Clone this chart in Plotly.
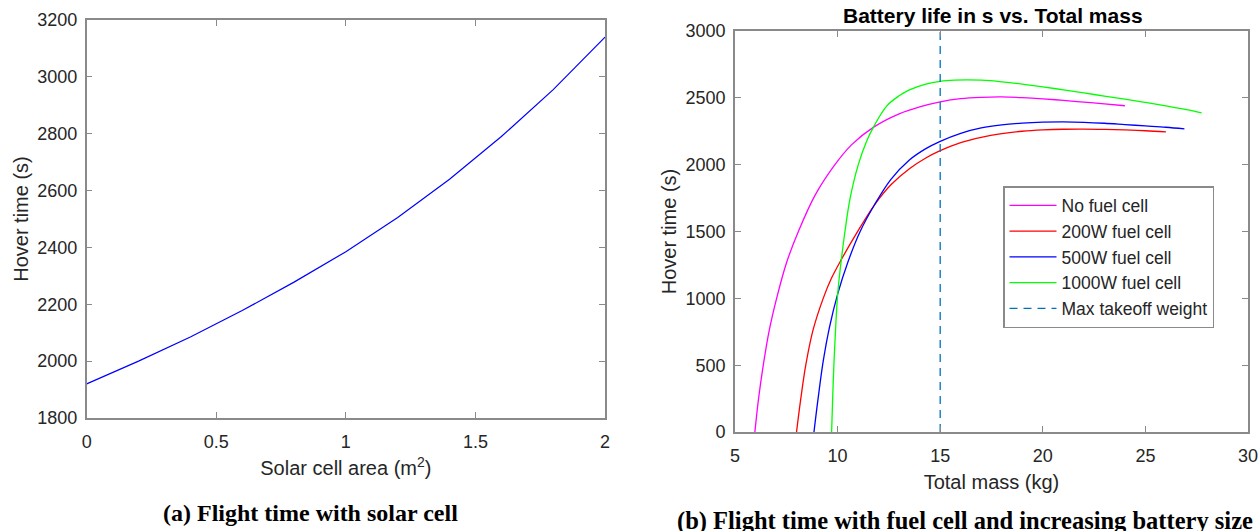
import plotly.graph_objects as go

# ---- Data: left panel (solar cell) ----
solar_area = [0.0, 0.2, 0.4, 0.6, 0.8, 1.0, 1.2, 1.4, 1.6, 1.8, 2.0]
solar_hover = [1920, 2000, 2085, 2178, 2278, 2385, 2505, 2640, 2790, 2955, 3140]

# ---- Data: right panel (fuel cell, battery size) ----
nofc_mass = [5.97, 6.15, 6.38, 6.67, 7.03, 7.52, 8.09, 8.9, 9.87, 10.69, 11.74, 13.0, 14.0, 15.0,
             16.0, 17.0, 18.0, 19.0, 20.0, 21.0, 22.0, 23.0, 24.0]
nofc_hover = [0, 250, 500, 760, 1000, 1270, 1500, 1770, 2000, 2150, 2279, 2380, 2432, 2470,
              2494, 2504, 2507, 2502, 2493, 2481, 2468, 2455, 2441]

fc200_mass = [8.0, 8.2, 8.45, 8.8, 9.3, 9.7, 10.2, 10.9, 11.8, 12.6, 13.5, 14.3, 15.0, 16.0, 17.0,
              18.0, 19.0, 20.0, 21.0, 22.0, 23.0, 24.0, 25.0, 26.0]
fc200_hover = [0, 240, 500, 760, 1000, 1150, 1295, 1480, 1700, 1850, 1970, 2050, 2105, 2165, 2205,
               2232, 2250, 2260, 2265, 2266, 2264, 2260, 2254, 2246]

fc500_mass = [8.85, 9.05, 9.3, 9.6, 10.0, 10.5, 11.1, 11.8, 12.6, 13.5, 14.3, 15.0, 16.0, 17.0, 18.0,
              19.0, 20.0, 21.0, 22.0, 23.0, 24.0, 25.0, 26.0, 26.9]
fc500_hover = [0, 250, 530, 780, 1030, 1270, 1500, 1700, 1890, 2035, 2120, 2175, 2235, 2275, 2298,
               2311, 2318, 2320, 2317, 2310, 2300, 2290, 2280, 2268]

fc1000_mass = [9.71, 9.76, 9.82, 9.9, 9.99, 10.1, 10.2, 10.36, 10.6, 11.01, 11.4, 11.74, 12.4, 13.0,
               13.5, 14.3, 15.0, 15.7, 16.3, 17.0, 18.0, 19.0, 20.0, 21.0, 22.0, 23.0, 24.0, 25.0,
               26.0, 27.0, 27.74]
fc1000_hover = [0, 250, 500, 760, 1000, 1180, 1310, 1500, 1740, 2000, 2170, 2279, 2440, 2515,
                2560, 2603, 2624, 2633, 2635, 2632, 2620, 2603, 2582, 2560, 2537, 2513, 2490, 2466,
                2440, 2412, 2388]

mtow_mass = [15, 15]
mtow_hover = [0, 3000]

series = [
    ("No fuel cell", nofc_mass, nofc_hover, "#FF00FF"),
    ("200W fuel cell", fc200_mass, fc200_hover, "#FF0000"),
    ("500W fuel cell", fc500_mass, fc500_hover, "#0000FF"),
    ("1000W fuel cell", fc1000_mass, fc1000_hover, "#00FF00"),
]

FONT = "Liberation Sans, Arial, sans-serif"
TICKC = "#262626"
AXC = "#8a8a8a"

fig = go.Figure()

fig.add_trace(go.Scatter(x=solar_area, y=solar_hover, mode="lines",
                         line=dict(color="#0000FF", width=1.2),
                         showlegend=False, xaxis="x", yaxis="y"))

for name, xs, ys, col in series:
    fig.add_trace(go.Scatter(x=xs, y=ys, mode="lines", name=name,
                             line=dict(color=col, width=1.3, shape="spline", smoothing=1.0),
                             xaxis="x2", yaxis="y2"))

fig.add_trace(go.Scatter(x=mtow_mass, y=mtow_hover, mode="lines", name="Max takeoff weight",
                         line=dict(color="#0072BD", width=1.3, dash="8px,6px"),
                         xaxis="x2", yaxis="y2"))

axis_common = dict(showgrid=False, zeroline=False, showline=True, linecolor=AXC, linewidth=1.6,
                   mirror="ticks", ticks="inside", ticklen=6, tickwidth=1.2, tickcolor=AXC,
                   automargin=False,
                   tickfont=dict(family=FONT, size=18, color=TICKC))

title_font = dict(family=FONT, size=20, color=TICKC)

fig.update_layout(
    width=1260, height=531,
    margin=dict(l=0, r=0, t=0, b=0),
    paper_bgcolor="white", plot_bgcolor="white",
    font=dict(family=FONT, color=TICKC),
    xaxis=dict(domain=[0.0688, 0.4802], range=[0, 2], tickvals=[0, 0.5, 1, 1.5, 2],
               ticktext=["0", "0.5", "1", "1.5", "2"], anchor="y", ticklabelstandoff=7,
               title=dict(text="Solar cell area (m<sup>2</sup>)", font=title_font, standoff=10),
               **axis_common),
    yaxis=dict(domain=[0.2128, 0.9623], range=[1800, 3200], dtick=200, anchor="x",
               ticklabelstandoff=4,
               title=dict(text="Hover time (s)", font=title_font, standoff=3),
               **axis_common),
    xaxis2=dict(domain=[0.5833, 0.9905], range=[5, 30], dtick=5, anchor="y2", ticklabelstandoff=7,
                title=dict(text="Total mass (kg)", font=title_font, standoff=10),
                **axis_common),
    yaxis2=dict(domain=[0.1864, 0.9416], range=[0, 3000], dtick=500, anchor="x2",
                ticklabelstandoff=4,
                title=dict(text="Hover time (s)", font=title_font, standoff=4),
                **axis_common),
    legend=dict(x=1003 / 1260, y=(531 - 186) / 531, xanchor="left", yanchor="top",
                bgcolor="white", bordercolor=AXC, borderwidth=1.5,
                font=dict(family=FONT, size=17.5, color=TICKC), itemwidth=47,
                tracegroupgap=0),
    showlegend=True,
)

fig.add_annotation(text="<b>Battery life in s vs. Total mass</b>", xref="paper", yref="paper",
                   x=993 / 1260, y=(531 - 16) / 531, xanchor="center", yanchor="middle", showarrow=False,
                   font=dict(family=FONT, size=21, color="#000000"))

fig.add_annotation(text="<b>(a) Flight time with solar cell</b>", xref="paper", yref="paper",
                   x=310 / 1260, y=(531 - 513) / 531, xanchor="center", yanchor="middle", showarrow=False,
                   font=dict(family="Liberation Serif, Times New Roman, serif", size=24, color="#000000"))

fig.add_annotation(text="<b>(b) Flight time with fuel cell and increasing battery size</b>", xref="paper",
                   yref="paper", x=965 / 1260, y=(531 - 521) / 531, xanchor="center", yanchor="middle",
                   showarrow=False,
                   font=dict(family="Liberation Serif, Times New Roman, serif", size=24.5, color="#000000"))

fig.write_html(
    "out.html",
    config={"displayModeBar": False},
    post_script="document.body.style.margin='0px';document.documentElement.style.overflow='hidden';",
)
